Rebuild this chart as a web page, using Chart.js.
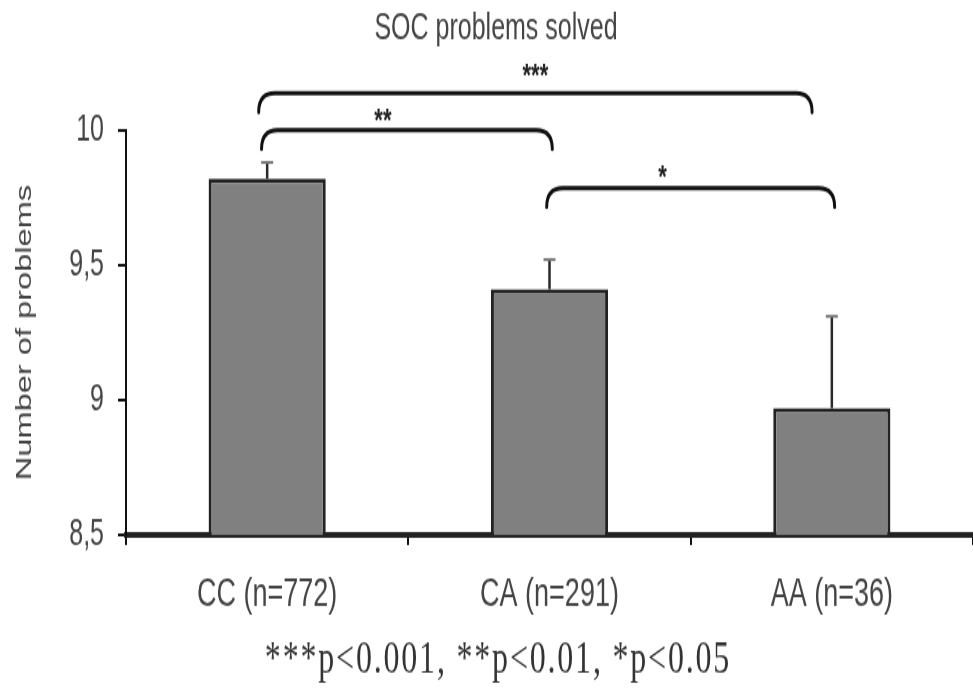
<!DOCTYPE html>
<html lang="en">
<head>
  <meta charset="UTF-8">
  <title>SOC problems solved</title>
  <script src="https://cdn.jsdelivr.net/npm/chart.js"></script>
  <style>
    body {
      margin: 0;
      background: #fff;
    }

    #chart {
      display: block;
    }
  </style>
</head>
<body>

  <!-- drawn at 973x476 and shown at 973x690, so the figure comes out stretched vertically -->
  <canvas id="chart" width="973" height="476" style="width:973px;height:690px"></canvas>

  <script>
    const groups = ['CC (n=772)', 'CA (n=291)', 'AA (n=36)'];
    const means = [9.82, 9.41, 8.97];
    const errors = [0.06, 0.11, 0.34];

    const yTicks = [8.5, 9, 9.5, 10];
    const yTickLabels = ['8,5', '9', '9,5', '10'];

    // significance brackets: ends in category index, height in problems
    const bracketFrom = [-0.03, -0.02, 0.99];
    const bracketTo = [1.93, 1.01, 2.01];
    const bracketLevel = [10.137, 10.0, 9.785];
    const bracketStars = ['***', '**', '*'];
    const starAt = [0.95, 0.41, 1.40];
    const starLevel = [10.225, 10.058, 9.850];

    const chartTitle = 'SOC problems solved';
    const footnote = '***p<0.001, **p<0.01, *p<0.05';

    const textColor = '#444';

    // upper error whisker on each bar
    const errorBars = {
      id: 'errorBars',
      afterDatasetsDraw(chart) {
        const ctx = chart.ctx;
        const y = chart.scales.y;
        chart.getDatasetMeta(0).data.forEach((bar, i) => {
          const top = y.getPixelForValue(means[i] + errors[i]);
          ctx.save();
          ctx.strokeStyle = '#2a2a2a';
          ctx.lineWidth = 2.5;
          ctx.beginPath();
          ctx.moveTo(bar.x, bar.y);
          ctx.lineTo(bar.x, top);
          ctx.stroke();
          ctx.strokeStyle = '#777';
          ctx.lineWidth = 2;
          ctx.beginPath();
          ctx.moveTo(bar.x - 6, top);
          ctx.lineTo(bar.x + 6, top);
          ctx.stroke();
          ctx.restore();
        });
      }
    };

    // title, brackets with stars, footnote
    const annotations = {
      id: 'annotations',
      afterDraw(chart) {
        const ctx = chart.ctx;
        const xs = chart.scales.x;
        const ys = chart.scales.y;
        const drop = 13;
        const r = 16;

        ctx.save();
        ctx.strokeStyle = '#111';
        ctx.lineWidth = 3;
        ctx.lineCap = 'round';
        bracketLevel.forEach((level, i) => {
          const x1 = xs.getPixelForValue(bracketFrom[i]);
          const x2 = xs.getPixelForValue(bracketTo[i]);
          const yTop = ys.getPixelForValue(level);
          ctx.beginPath();
          ctx.moveTo(x1, yTop + drop);
          ctx.quadraticCurveTo(x1, yTop, x1 + r, yTop);
          ctx.lineTo(x2 - r, yTop);
          ctx.quadraticCurveTo(x2, yTop, x2, yTop + drop);
          ctx.stroke();
        });

        ctx.fillStyle = '#222';
        ctx.textAlign = 'center';
        ctx.textBaseline = 'middle';
        ctx.font = 'bold 22px "Liberation Sans", Arial, sans-serif';
        bracketStars.forEach((s, i) => {
          ctx.fillText(s, xs.getPixelForValue(starAt[i]), ys.getPixelForValue(starLevel[i]) + 5);
        });

        ctx.fillStyle = textColor;
        ctx.font = '25px "Liberation Sans", Arial, sans-serif';
        ctx.fillText(chartTitle, 496, 20.5);

        ctx.fillStyle = '#333';
        ctx.font = '32px "Liberation Serif", "Times New Roman", serif';
        ctx.letterSpacing = '1.8px';
        ctx.fillText(footnote, 498, 456);
        ctx.restore();
      }
    };

    new Chart(document.getElementById('chart'), {
      type: 'bar',
      data: {
        labels: groups,
        datasets: [{
          data: means,
          backgroundColor: '#808080',
          borderColor: '#222',
          borderWidth: { top: 3, left: 3, right: 3, bottom: 0 },
          categoryPercentage: 1,
          barPercentage: 0.415
        }]
      },
      options: {
        responsive: false,
        animation: false,
        layout: {
          padding: { top: 89.7, right: 0, bottom: 0, left: 0 }
        },
        plugins: {
          legend: { display: false },
          tooltip: { enabled: false }
        },
        scales: {
          x: {
            grid: { drawOnChartArea: false, tickLength: 7, color: '#111', lineWidth: 2 },
            border: { color: '#222', width: 4 },
            ticks: {
              color: textColor,
              padding: 18,
              font: { family: '"Liberation Sans", Arial, sans-serif', size: 27 }
            },
            afterFit(scale) {
              scale.height = 476 - 369.1;
            }
          },
          y: {
            min: 8.5,
            max: 10,
            afterBuildTicks(scale) {
              scale.ticks = yTicks.map(v => ({ value: v }));
            },
            ticks: {
              color: textColor,
              padding: 14,
              font: { family: '"Liberation Sans", Arial, sans-serif', size: 25 },
              callback: v => yTickLabels[yTicks.indexOf(v)]
            },
            grid: { drawOnChartArea: false, tickLength: 8, color: '#111', lineWidth: 2 },
            border: { color: '#111', width: 2 },
            title: {
              display: true,
              text: 'Number of problems',
              color: textColor,
              font: { family: '"Liberation Sans", Arial, sans-serif', size: 22.5 },
              padding: { top: 11, bottom: 0 }
            },
            afterFit(scale) {
              scale.width = 126;
            }
          }
        }
      },
      plugins: [errorBars, annotations]
    });
  </script>

</body>
</html>
